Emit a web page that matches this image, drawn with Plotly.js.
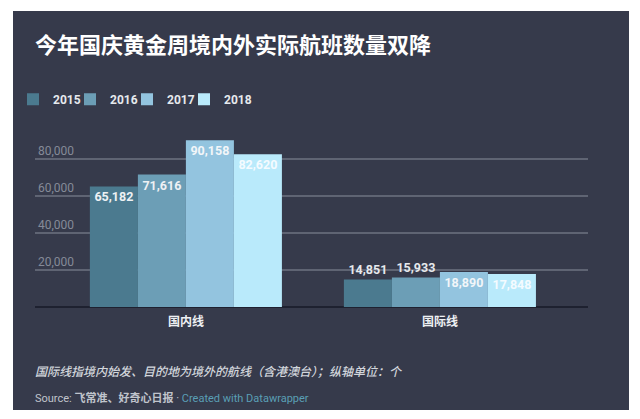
<!DOCTYPE html>
<html>
<head>
<meta charset="utf-8">
<script src="https://cdn.plot.ly/plotly-3.0.1.min.js"></script>
<style>
html,body{margin:0;padding:0;background:#ffffff;width:640px;height:419px;overflow:hidden;}
#chart{position:absolute;left:13px;top:11px;width:616px;height:399px;}
</style>
</head>
<body>
<div id="chart"></div>
<script>
const categories = ['国内线', '国际线'];
const years = ['2015', '2016', '2017', '2018'];
const values2015 = [65182, 14851];
const values2016 = [71616, 15933];
const values2017 = [90158, 18890];
const values2018 = [82620, 17848];
const yTickVals = [20000, 40000, 60000, 80000];
const yTickText = ['20,000', '40,000', '60,000', '80,000'];

const seriesValues = [values2015, values2016, values2017, values2018];
const colors = ['#4b7a8f', '#6c9eb6', '#93c4df', '#b9eafb'];
const textColors = ['#eef1f4', '#eef1f4', '#f2f6f9', '#f4fbff'];
const positions = [
  ['inside', 'outside'],
  ['inside', 'outside'],
  ['inside', 'inside'],
  ['inside', 'inside']
];

const FONT = 'Roboto, "Noto Sans CJK SC", sans-serif';
const CJK = '"Noto Sans CJK SC", Roboto, sans-serif';

const traces = years.map((yr, i) => ({
  type: 'bar',
  name: yr,
  x: categories,
  y: seriesValues[i],
  marker: {color: colors[i], line: {width: 0}},
  texttemplate: '<b>%{y:,}</b>',
  textposition: positions[i],
  insidetextanchor: 'end',
  constraintext: 'none',
  textfont: {family: FONT, size: 12.5, color: textColors[i]},
  outsidetextfont: {family: FONT, size: 12.5, color: '#e6e9ed'},
  cliponaxis: false,
  hoverinfo: 'none'
}));

// plot area (div px): left 22, right 575, top 120, bottom 296
const PT = 120, PB = 296;
const toPaperY = (py) => (PB - py) / (PB - PT);

const layout = {
  width: 616,
  height: 399,
  paper_bgcolor: '#363a4b',
  plot_bgcolor: '#363a4b',
  margin: {l: 22, r: 41, t: PT, b: 399 - PB, pad: 0},
  barmode: 'group',
  bargap: 0.244,
  bargroupgap: 0,
  font: {family: FONT, color: '#e6e9ed'},
  title: {
    text: '<b>今年国庆黄金周境内外实际航班数量双降</b>',
    font: {family: CJK, size: 22, color: '#ffffff'},
    xref: 'container', x: 22 / 616, xanchor: 'left',
    yref: 'container', y: 1 - 34 / 399, yanchor: 'middle'
  },
  showlegend: true,
  legend: {
    orientation: 'h',
    xref: 'container', x: -6 / 616, xanchor: 'left',
    yref: 'container', y: 1 - 86 / 399, yanchor: 'middle',
    font: {family: FONT, size: 12, color: '#e6e9ed', weight: 'bold'},
    bgcolor: 'rgba(0,0,0,0)',
    entrywidth: 12,
    title: {text: '\u00a0'.repeat(300), side: 'top', font: {size: 4, color: '#363a4b'}},
    traceorder: 'normal',
    itemclick: false
  },
  xaxis: {
    type: 'category',
    range: [-0.594, 1.583],
    showgrid: false,
    zeroline: false,
    showline: false,
    ticks: 'outside',
    ticklen: 4,
    tickcolor: 'rgba(0,0,0,0)',
    tickfont: {family: CJK, size: 12, color: '#eef0f3', weight: 'bold'},
    fixedrange: true
  },
  yaxis: {
    range: [0, 95135],
    tickvals: yTickVals,
    ticktext: yTickText,
    ticklabelposition: 'inside top',
    tickfont: {family: FONT, size: 12, color: '#858a98'},
    showgrid: true,
    gridcolor: '#5f6473',
    gridwidth: 2,
    zeroline: true,
    zerolinecolor: '#1e2130',
    zerolinewidth: 2,
    showline: false,
    ticks: '',
    fixedrange: true
  },
  annotations: [
    {
      text: '国际线指境内始发、目的地为境外的航线（含港澳台）；纵轴单位：个',
      xref: 'paper', x: -2 / 553, xanchor: 'left',
      yref: 'paper', y: toPaperY(359), yanchor: 'middle',
      showarrow: false,
      font: {family: CJK, size: 12, color: '#d2d6dc', style: 'italic', weight: 500}
    },
    {
      text: 'Source: <b>飞常准、好奇心日报</b> · <span style="color:#5a9fb5">Created with Datawrapper</span>',
      xref: 'paper', x: -2 / 553, xanchor: 'left',
      yref: 'paper', y: toPaperY(387), yanchor: 'middle',
      showarrow: false,
      font: {family: FONT, size: 11, color: '#c0c4cc'}
    }
  ]
};

Plotly.newPlot('chart', traces, layout, {displayModeBar: false, staticPlot: true});
</script>
</body>
</html>
